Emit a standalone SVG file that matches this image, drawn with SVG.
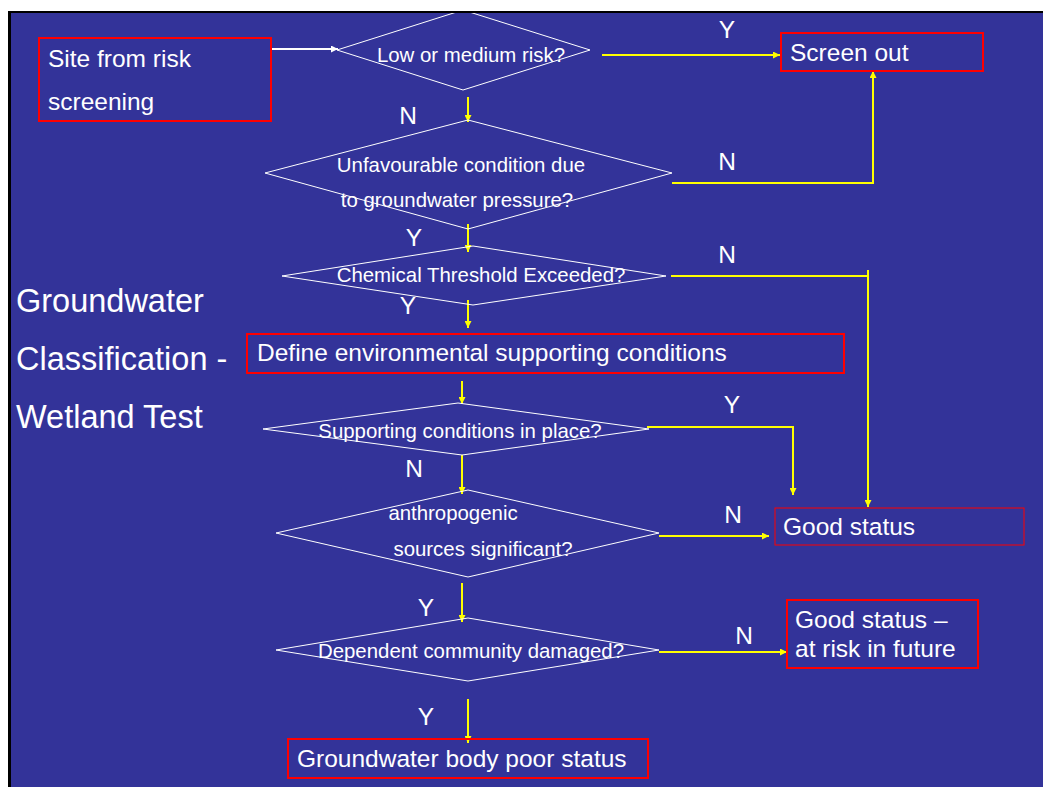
<svg xmlns="http://www.w3.org/2000/svg" width="1043" height="787" viewBox="0 0 1043 787">
<style>
text{font-family:"Liberation Sans",Arial,sans-serif;fill:#ffffff}
.t24{font-size:24.5px}
.t20{font-size:20.4px}
.t32{font-size:32.5px}
.dia{fill:none;stroke:#ffffff;stroke-width:1}
.box{fill:none;stroke:#ff0000;stroke-width:2}
.box1{fill:none;stroke:#ff0000;stroke-width:1}
.yl{fill:none;stroke:#ffff00;stroke-width:2}
.wl{fill:none;stroke:#ffffff;stroke-width:2}
</style>
<defs>
<marker id="ay" markerUnits="userSpaceOnUse" markerWidth="8" markerHeight="7" refX="7" refY="3.5" orient="auto"><path d="M0,0 L7,3.5 L0,7 z" fill="#ffff00"/></marker>
<marker id="aw" markerUnits="userSpaceOnUse" markerWidth="8" markerHeight="7" refX="7" refY="3.5" orient="auto"><path d="M0,0 L7,3.5 L0,7 z" fill="#ffffff"/></marker>
<clipPath id="frame"><rect x="11" y="13" width="1032" height="774"/></clipPath>
</defs>
<rect x="0" y="0" width="1043" height="787" fill="#ffffff"/>
<rect x="8" y="11" width="1035" height="776" fill="#000000"/>
<rect x="11" y="13" width="1032" height="774" fill="#333399"/>

<g id="title">
<text class="t32" x="16" y="312">Groundwater</text>
<text class="t32" x="16" y="370">Classification -</text>
<text class="t32" x="16" y="428">Wetland Test</text>
</g>

<g id="connectors">
<path class="wl" d="M271,49 L338,49" marker-end="url(#aw)"/>
<path class="yl" d="M602,55 L780,55" marker-end="url(#ay)"/>
<path class="yl" d="M468,97 L468,122" marker-end="url(#ay)"/>
<path class="yl" d="M672,183 L873,183 L873,71" marker-end="url(#ay)"/>
<path class="yl" d="M468,224 L468,252" marker-end="url(#ay)"/>
<path class="yl" d="M671,276 L868,276"/>
<path class="yl" d="M868,270 L868,507" marker-end="url(#ay)"/>
<path class="yl" d="M468,300 L468,328" marker-end="url(#ay)"/>
<path class="yl" d="M462,381 L462,404" marker-end="url(#ay)"/>
<path class="yl" d="M647,427 L793,427 L793,495" marker-end="url(#ay)"/>
<path class="yl" d="M462,455 L462,494" marker-end="url(#ay)"/>
<path class="yl" d="M659,536 L769,536" marker-end="url(#ay)"/>
<path class="yl" d="M462,583 L462,622" marker-end="url(#ay)"/>
<path class="yl" d="M659,652 L787,652" marker-end="url(#ay)"/>
<path class="yl" d="M468,699 L468,743" marker-end="url(#ay)"/>
</g>

<g id="labels">
<text class="t24" x="727" y="38" text-anchor="middle">Y</text>
<text class="t24" x="408" y="124" text-anchor="middle">N</text>
<text class="t24" x="727" y="170" text-anchor="middle">N</text>
<text class="t24" x="414" y="246" text-anchor="middle">Y</text>
<text class="t24" x="727" y="263" text-anchor="middle">N</text>
<text class="t24" x="408" y="314" text-anchor="middle">Y</text>
<text class="t24" x="732" y="413" text-anchor="middle">Y</text>
<text class="t24" x="414" y="477" text-anchor="middle">N</text>
<text class="t24" x="733" y="523" text-anchor="middle">N</text>
<text class="t24" x="426" y="616" text-anchor="middle">Y</text>
<text class="t24" x="744" y="644" text-anchor="middle">N</text>
<text class="t24" x="426" y="725" text-anchor="middle">Y</text>
</g>

<g id="site">
<rect class="box" x="39" y="38" width="232" height="83"/>
<text class="t24" x="48" y="67">Site from risk</text>
<text class="t24" x="48" y="110">screening</text>
</g>

<g id="d-risk" clip-path="url(#frame)">
<polygon class="dia" points="337,50 463,10 590,50 463,90"/>
<text class="t20" x="471" y="62" text-anchor="middle">Low or medium risk?</text>
</g>

<g id="screen-out">
<rect class="box" x="781" y="33" width="202" height="38"/>
<text class="t24" x="790" y="61">Screen out</text>
</g>

<g id="d-unfav">
<polygon class="dia" points="265,173 468,120 672,173 468,229"/>
<text class="t20" x="461" y="172" text-anchor="middle">Unfavourable condition due</text>
<text class="t20" x="457" y="207" text-anchor="middle">to groundwater pressure?</text>
</g>

<g id="d-chem">
<polygon class="dia" points="282,276 473,246 666,276 473,305"/>
<text class="t20" x="481" y="282" text-anchor="middle">Chemical Threshold Exceeded?</text>
</g>

<g id="define">
<rect class="box" x="247" y="334" width="597" height="39"/>
<text class="t24" x="257" y="361">Define environmental supporting conditions</text>
</g>

<g id="d-support">
<polygon class="dia" points="263,429 458,403 649,429 462,455"/>
<text class="t20" x="460" y="438" text-anchor="middle">Supporting conditions in place?</text>
</g>

<g id="d-anthro">
<polygon class="dia" points="276,533 468,490 659,533 468,577"/>
<text class="t20" x="453" y="520" text-anchor="middle">anthropogenic</text>
<text class="t20" x="483" y="556" text-anchor="middle">sources significant?</text>
</g>

<g id="good">
<rect class="box1" x="775" y="508" width="249" height="37"/>
<text class="t24" x="783" y="535">Good status</text>
</g>

<g id="d-dependent">
<polygon class="dia" points="276,650 468,618 659,650 468,681"/>
<text class="t20" x="471" y="658" text-anchor="middle">Dependent community damaged?</text>
</g>

<g id="good-risk">
<rect class="box" x="787" y="600" width="191" height="68"/>
<text class="t24" x="795" y="628">Good status –</text>
<text class="t24" x="795" y="657">at risk in future</text>
</g>

<g id="poor">
<rect class="box" x="288" y="739" width="360" height="39"/>
<text class="t24" x="297" y="767">Groundwater body poor status</text>
</g>
</svg>
